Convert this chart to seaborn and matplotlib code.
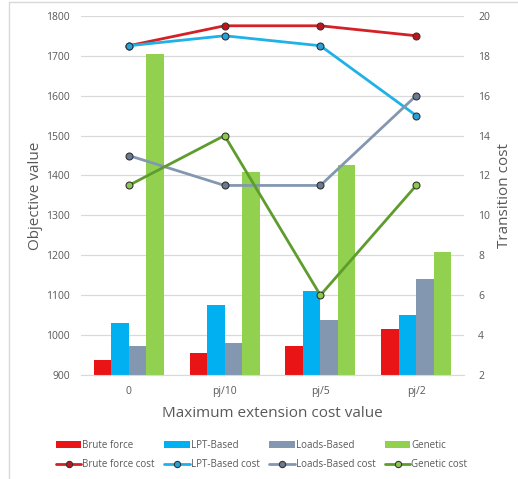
import pandas as pd
import seaborn as sns
import matplotlib.pyplot as plt
from matplotlib.lines import Line2D
from matplotlib.patches import Patch

# datos
categories = ['0', 'pj/10', 'pj/5', 'pj/2']
methods = ['Brute force', 'LPT-Based', 'Loads-Based', 'Genetic']

brute_obj = [938, 956, 973, 1015]
lpt_obj = [1030, 1075, 1111, 1050]
loads_obj = [972, 981, 1038, 1140]
genetic_obj = [1705, 1408, 1425, 1209]

brute_cost = [18.5, 19.5, 19.5, 19]
lpt_cost = [18.5, 19, 18.5, 15]
loads_cost = [13, 11.5, 11.5, 16]
genetic_cost = [11.5, 14, 6, 11.5]

bar_colors = ['#E81416', '#00B0F0', '#8497B0', '#92D050']
line_colors = ['#D42027', '#1EB2E8', '#8497B0', '#5E9C2E']
marker_faces = ['#C0141A', '#2AA0D8', '#6B7A90', '#8CC850']

obj = pd.DataFrame({
    'cat': categories * 4,
    'method': [m for m in methods for _ in categories],
    'value': brute_obj + lpt_obj + loads_obj + genetic_obj,
})
cost = pd.DataFrame({
    'cat': categories * 4,
    'method': [m + ' cost' for m in methods for _ in categories],
    'value': brute_cost + lpt_cost + loads_cost + genetic_cost,
})

sns.set_style('white')
plt.rcParams['font.family'] = ['Open Sans', 'DejaVu Sans']
txt = '#595959'

fig = plt.figure(figsize=(5.18, 4.79), dpi=100)
ax = fig.add_axes([0.156, 0.217, 0.74, 0.750])

sns.barplot(data=obj, x='cat', y='value', hue='method', palette=bar_colors,
            width=0.73, saturation=1, linewidth=0, ax=ax, legend=False)
ax.set_ylim(900, 1800)
ax.set_yticks(range(900, 1801, 100))
ax.set_xlim(-0.5, 3.5)
ax.yaxis.grid(True, color='#D9D9D9', lw=0.9)
ax.set_axisbelow(True)
for s in ['left', 'right', 'top']:
    ax.spines[s].set_visible(False)
ax.spines['bottom'].set_color('#D9D9D9')
ax.tick_params(length=0, labelsize=7.5, labelcolor=txt, pad=8)
ax.set_xlabel('Maximum extension cost value', fontsize=11, color=txt, labelpad=6)
ax.set_ylabel('Objective value', fontsize=11, color=txt, labelpad=2)

ax2 = ax.twinx()
for i, m in enumerate(methods):
    d = cost[cost['method'] == m + ' cost']
    sns.lineplot(data=d, x='cat', y='value', color=line_colors[i], lw=2,
                 marker='o', markersize=5, markerfacecolor=marker_faces[i],
                 markeredgecolor='#333333', markeredgewidth=0.8, ax=ax2)
ax2.set_ylim(2, 20)
ax2.set_yticks(range(2, 21, 2))
ax2.set_xlim(-0.5, 3.5)
for s in ax2.spines.values():
    s.set_visible(False)
ax2.tick_params(length=0, labelsize=7.5, labelcolor=txt, pad=10)
ax2.set_ylabel('Transition cost', fontsize=11, color=txt, labelpad=5)

# leyenda: columnas = barra + linea
handles = []
labels = []
for i, m in enumerate(methods):
    handles.append(Patch(facecolor=bar_colors[i], linewidth=0))
    labels.append(m)
    handles.append(Line2D([0], [0], color=line_colors[i], lw=2, marker='o',
                          markersize=4.5, markerfacecolor=marker_faces[i],
                          markeredgecolor='#333333', markeredgewidth=0.8))
    labels.append(m + ' cost')
fig.legend(handles, labels, ncol=4, loc='center', bbox_to_anchor=(0.505, 0.05),
           frameon=False, fontsize=7, labelcolor=txt, handlelength=2.6,
           handleheight=0.85, handletextpad=0.1, columnspacing=1.0,
           labelspacing=0.85)

# borde del grafico
fig.add_artist(Line2D([0.017, 1.0], [0.996, 0.996], color='#D9D9D9', lw=1,
                      transform=fig.transFigure))
fig.add_artist(Line2D([0.017, 0.017], [0.0, 0.996], color='#D9D9D9', lw=1,
                      transform=fig.transFigure))

fig.savefig('out.png', dpi=100)
